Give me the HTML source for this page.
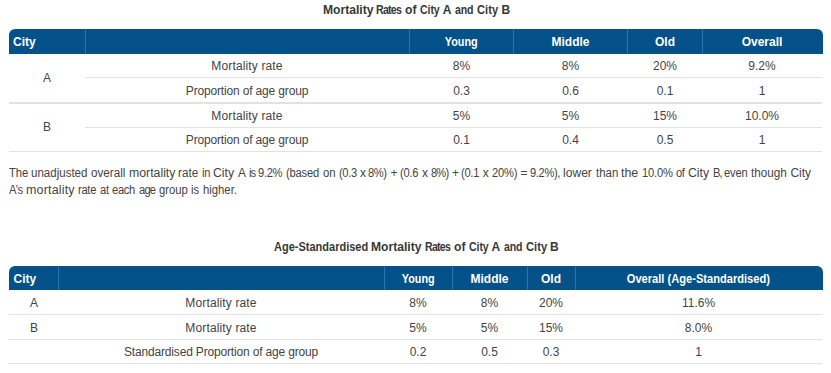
<!DOCTYPE html>
<html><head><meta charset="utf-8">
<style>
*{margin:0;padding:0;box-sizing:border-box}
html,body{width:831px;height:373px;overflow:hidden;background:#fff}
body{position:relative;font-family:"Liberation Sans",sans-serif;color:#444;font-size:12px}
.a{position:absolute;white-space:nowrap}
.t{font-weight:bold;color:#2b2b2b;text-align:center;line-height:20px;height:20px}
.hd{position:absolute;background:#05528a;border-radius:6px 6px 0 0}
.dv{position:absolute;width:1px;background:#2a74b4}
.hl{position:absolute;height:1px;background:#e2e2e2}
.hx{position:absolute;color:#fff;font-weight:bold;line-height:20px;height:20px;text-align:center;white-space:nowrap}
.tw{position:absolute;white-space:nowrap;font-weight:bold;color:#383838;line-height:20px;transform-origin:0 0}
.s{display:inline-block;transform-origin:50% 50%}
.c{position:absolute;text-align:center;line-height:20px;height:20px;white-space:nowrap}
.w{position:absolute;line-height:17px;white-space:nowrap;transform-origin:0 0}
</style></head><body>

<!-- Title 1 -->
<!-- T1 START -->
<span class="tw" style="left:322.5px;top:0px;transform:scaleX(1.008);letter-spacing:0.00px">Mortality</span>
<span class="tw" style="left:376.1px;top:0px;transform:scaleX(0.880);letter-spacing:-0.82px">Rates</span>
<span class="tw" style="left:405.2px;top:0px;transform:scaleX(1.009);letter-spacing:0.00px">of</span>
<span class="tw" style="left:419.9px;top:0px;transform:scaleX(0.880);letter-spacing:-0.10px">City</span>
<span class="tw" style="left:442.8px;top:0px;transform:scaleX(1.000);letter-spacing:0.00px">A</span>
<span class="tw" style="left:455.4px;top:0px;transform:scaleX(0.880);letter-spacing:-0.14px">and</span>
<span class="tw" style="left:477.1px;top:0px;transform:scaleX(0.930);letter-spacing:0.00px">City</span>
<span class="tw" style="left:501.4px;top:0px;transform:scaleX(1.000);letter-spacing:0.00px">B</span>
<!-- T1 END -->

<!-- Table 1 header -->
<div class="hd" style="left:9px;top:29.2px;width:813.5px;height:24.5px"></div>
<div class="dv" style="left:85px;top:29px;height:25px"></div>
<div class="dv" style="left:409px;top:29px;height:25px"></div>
<div class="dv" style="left:513px;top:29px;height:25px"></div>
<div class="dv" style="left:627px;top:29px;height:25px"></div>
<div class="dv" style="left:702px;top:29px;height:25px"></div>
<div class="hx" style="left:13px;top:31.5px;text-align:left">City</div>
<div class="hx" style="left:409px;width:105px;top:31.5px"><span class="s" style="transform:scaleX(0.9)">Young</span></div>
<div class="hx" style="left:513px;width:115px;top:31.5px">Middle</div>
<div class="hx" style="left:627px;width:76px;top:31.5px">Old</div>
<div class="hx" style="left:702px;width:120px;top:31.5px">Overall</div>

<!-- Table 1 body lines -->
<div class="hl" style="left:85px;top:77px;width:737px"></div>
<div class="hl" style="left:9px;top:102px;width:813px;height:2px"></div>
<div class="hl" style="left:85px;top:127px;width:737px"></div>
<div class="hl" style="left:9px;top:151px;width:813px"></div>

<!-- Table 1 body text -->
<div class="c" style="left:9px;width:76px;top:67.5px">A</div>
<div class="c" style="left:9px;width:76px;top:117px">B</div>

<div class="c" style="left:85px;width:324px;top:56px;letter-spacing:0.14px">Mortality rate</div>
<div class="c" style="left:409px;width:105px;top:56px">8%</div>
<div class="c" style="left:513px;width:115px;top:56px">8%</div>
<div class="c" style="left:627px;width:76px;top:56px">20%</div>
<div class="c" style="left:702px;width:120px;top:56px">9.2%</div>

<div class="c" style="left:85px;width:324px;top:80.6px;letter-spacing:-0.16px">Proportion of age group</div>
<div class="c" style="left:409px;width:105px;top:80.6px">0.3</div>
<div class="c" style="left:513px;width:115px;top:80.6px">0.6</div>
<div class="c" style="left:627px;width:76px;top:80.6px">0.1</div>
<div class="c" style="left:702px;width:120px;top:80.6px">1</div>

<div class="c" style="left:85px;width:324px;top:105.5px;letter-spacing:0.14px">Mortality rate</div>
<div class="c" style="left:409px;width:105px;top:105.5px">5%</div>
<div class="c" style="left:513px;width:115px;top:105.5px">5%</div>
<div class="c" style="left:627px;width:76px;top:105.5px">15%</div>
<div class="c" style="left:702px;width:120px;top:105.5px">10.0%</div>

<div class="c" style="left:85px;width:324px;top:130.2px;letter-spacing:-0.16px">Proportion of age group</div>
<div class="c" style="left:409px;width:105px;top:130.2px">0.1</div>
<div class="c" style="left:513px;width:115px;top:130.2px">0.4</div>
<div class="c" style="left:627px;width:76px;top:130.2px">0.5</div>
<div class="c" style="left:702px;width:120px;top:130.2px">1</div>

<!-- PARA START -->
<span class="w" style="left:8.6px;top:165px;transform:scaleX(0.937);letter-spacing:0.00px">The</span>
<span class="w" style="left:31.3px;top:165px;transform:scaleX(0.961);letter-spacing:0.00px">unadjusted</span>
<span class="w" style="left:91.0px;top:165px;transform:scaleX(0.972);letter-spacing:0.00px">overall</span>
<span class="w" style="left:128.6px;top:165px;transform:scaleX(1.024);letter-spacing:0.00px">mortality</span>
<span class="w" style="left:178.3px;top:165px;transform:scaleX(0.976);letter-spacing:0.00px">rate</span>
<span class="w" style="left:201.8px;top:165px;transform:scaleX(0.930);letter-spacing:-0.38px">in</span>
<span class="w" style="left:213.4px;top:165px;transform:scaleX(1.024);letter-spacing:0.00px">City</span>
<span class="w" style="left:237.9px;top:165px;transform:scaleX(1.000);letter-spacing:0.00px">A</span>
<span class="w" style="left:248.6px;top:165px;transform:scaleX(0.930);letter-spacing:-1.00px">is</span>
<span class="w" style="left:258.3px;top:165px;transform:scaleX(0.930);letter-spacing:-0.32px">9.2%</span>
<span class="w" style="left:286.2px;top:165px;transform:scaleX(0.930);letter-spacing:-0.22px">(based</span>
<span class="w" style="left:322.6px;top:165px;transform:scaleX(0.947);letter-spacing:0.00px">on</span>
<span class="w" style="left:338.5px;top:165px;transform:scaleX(0.930);letter-spacing:-0.38px">(0.3</span>
<span class="w" style="left:360.0px;top:165px;transform:scaleX(1.000);letter-spacing:0.00px">x</span>
<span class="w" style="left:368.4px;top:165px;transform:scaleX(0.930);letter-spacing:-0.49px">8%)</span>
<span class="w" style="left:390.6px;top:165px;transform:scaleX(1.000);letter-spacing:0.00px">+</span>
<span class="w" style="left:400.2px;top:165px;transform:scaleX(0.930);letter-spacing:-0.27px">(0.6</span>
<span class="w" style="left:422.0px;top:165px;transform:scaleX(1.000);letter-spacing:0.00px">x</span>
<span class="w" style="left:430.5px;top:165px;transform:scaleX(0.930);letter-spacing:-0.92px">8%)</span>
<span class="w" style="left:451.9px;top:165px;transform:scaleX(1.000);letter-spacing:0.00px">+</span>
<span class="w" style="left:461.0px;top:165px;transform:scaleX(0.930);letter-spacing:-0.31px">(0.1</span>
<span class="w" style="left:482.7px;top:165px;transform:scaleX(1.000);letter-spacing:0.00px">x</span>
<span class="w" style="left:491.8px;top:165px;transform:scaleX(0.930);letter-spacing:-0.19px">20%)</span>
<span class="w" style="left:520.6px;top:165px;transform:scaleX(1.000);letter-spacing:0.00px">=</span>
<span class="w" style="left:529.6px;top:165px;transform:scaleX(0.930);letter-spacing:-0.40px">9.2%),</span>
<span class="w" style="left:563.3px;top:165px;transform:scaleX(1.007);letter-spacing:-0.00px">lower</span>
<span class="w" style="left:595.5px;top:165px;transform:scaleX(0.957);letter-spacing:0.00px">than</span>
<span class="w" style="left:621.2px;top:165px;transform:scaleX(1.036);letter-spacing:0.00px">the</span>
<span class="w" style="left:641.8px;top:165px;transform:scaleX(0.930);letter-spacing:-0.19px">10.0%</span>
<span class="w" style="left:676.0px;top:165px;transform:scaleX(0.930);letter-spacing:-0.53px">of</span>
<span class="w" style="left:688.2px;top:165px;transform:scaleX(1.024);letter-spacing:-0.00px">City</span>
<span class="w" style="left:712.7px;top:165px;transform:scaleX(0.930);letter-spacing:-1.00px">B,</span>
<span class="w" style="left:724.3px;top:165px;transform:scaleX(0.930);letter-spacing:-0.21px">even</span>
<span class="w" style="left:751.2px;top:165px;transform:scaleX(0.978);letter-spacing:0.00px">though</span>
<span class="w" style="left:790.4px;top:165px;transform:scaleX(1.000);letter-spacing:0.00px">City</span>
<span class="w" style="left:8.6px;top:182px;transform:scaleX(0.930);letter-spacing:-0.22px">A’s</span>
<span class="w" style="left:26.0px;top:182px;transform:scaleX(1.040);letter-spacing:0.17px">mortality</span>
<span class="w" style="left:77.8px;top:182px;transform:scaleX(0.930);letter-spacing:-0.31px">rate</span>
<span class="w" style="left:99.5px;top:182px;transform:scaleX(0.930);letter-spacing:-0.11px">at</span>
<span class="w" style="left:112.0px;top:182px;transform:scaleX(0.930);letter-spacing:-0.32px">each</span>
<span class="w" style="left:138.6px;top:182px;transform:scaleX(0.930);letter-spacing:-0.86px">age</span>
<span class="w" style="left:158.9px;top:182px;transform:scaleX(0.941);letter-spacing:0.00px">group</span>
<span class="w" style="left:191.1px;top:182px;transform:scaleX(0.943);letter-spacing:0.00px">is</span>
<span class="w" style="left:202.6px;top:182px;transform:scaleX(0.942);letter-spacing:0.00px">higher.</span>
<!-- PARA END -->

<!-- Title 2 -->
<!-- T2 START -->
<span class="tw" style="left:273.7px;top:237px;transform:scaleX(0.917);letter-spacing:0.00px">Age-Standardised</span>
<span class="tw" style="left:371.1px;top:237px;transform:scaleX(1.008);letter-spacing:0.00px">Mortality</span>
<span class="tw" style="left:424.7px;top:237px;transform:scaleX(0.880);letter-spacing:-0.82px">Rates</span>
<span class="tw" style="left:453.8px;top:237px;transform:scaleX(1.009);letter-spacing:0.00px">of</span>
<span class="tw" style="left:468.5px;top:237px;transform:scaleX(0.880);letter-spacing:-0.10px">City</span>
<span class="tw" style="left:491.4px;top:237px;transform:scaleX(1.000);letter-spacing:0.00px">A</span>
<span class="tw" style="left:504.0px;top:237px;transform:scaleX(0.880);letter-spacing:-0.14px">and</span>
<span class="tw" style="left:525.7px;top:237px;transform:scaleX(0.934);letter-spacing:0.00px">City</span>
<span class="tw" style="left:550.1px;top:237px;transform:scaleX(1.000);letter-spacing:0.00px">B</span>
<!-- T2 END -->

<!-- Table 2 header -->
<div class="hd" style="left:9px;top:266px;width:813.5px;height:24px"></div>
<div class="dv" style="left:58px;top:266px;height:24px"></div>
<div class="dv" style="left:384px;top:266px;height:24px"></div>
<div class="dv" style="left:452px;top:266px;height:24px"></div>
<div class="dv" style="left:527px;top:266px;height:24px"></div>
<div class="dv" style="left:575px;top:266px;height:24px"></div>
<div class="hx" style="left:13.5px;top:268.5px;text-align:left">City</div>
<div class="hx" style="left:384px;width:68px;top:268.5px"><span class="s" style="transform:scaleX(0.9)">Young</span></div>
<div class="hx" style="left:452px;width:75px;top:268.5px">Middle</div>
<div class="hx" style="left:527px;width:48px;top:268.5px">Old</div>
<div class="hx" style="left:575px;width:247px;top:268.5px"><span class="s" style="transform:scaleX(0.925)">Overall (Age-Standardised)</span></div>

<!-- Table 2 lines -->
<div class="hl" style="left:9px;top:314px;width:813px"></div>
<div class="hl" style="left:9px;top:339px;width:813px"></div>
<div class="hl" style="left:9px;top:363px;width:813px"></div>

<!-- Table 2 text -->
<div class="c" style="left:9px;width:50px;top:293px">A</div>
<div class="c" style="left:58px;width:326px;top:293px;letter-spacing:0.14px">Mortality rate</div>
<div class="c" style="left:384px;width:68px;top:293px">8%</div>
<div class="c" style="left:452px;width:75px;top:293px">8%</div>
<div class="c" style="left:527px;width:48px;top:293px">20%</div>
<div class="c" style="left:575px;width:247px;top:293px">11.6%</div>

<div class="c" style="left:9px;width:50px;top:318px">B</div>
<div class="c" style="left:58px;width:326px;top:318px;letter-spacing:0.14px">Mortality rate</div>
<div class="c" style="left:384px;width:68px;top:318px">5%</div>
<div class="c" style="left:452px;width:75px;top:318px">5%</div>
<div class="c" style="left:527px;width:48px;top:318px">15%</div>
<div class="c" style="left:575px;width:247px;top:318px">8.0%</div>

<div class="c" style="left:58px;width:326px;top:342px;letter-spacing:-0.17px">Standardised Proportion of age group</div>
<div class="c" style="left:384px;width:68px;top:342px">0.2</div>
<div class="c" style="left:452px;width:75px;top:342px">0.5</div>
<div class="c" style="left:527px;width:48px;top:342px">0.3</div>
<div class="c" style="left:575px;width:247px;top:342px">1</div>

</body></html>
